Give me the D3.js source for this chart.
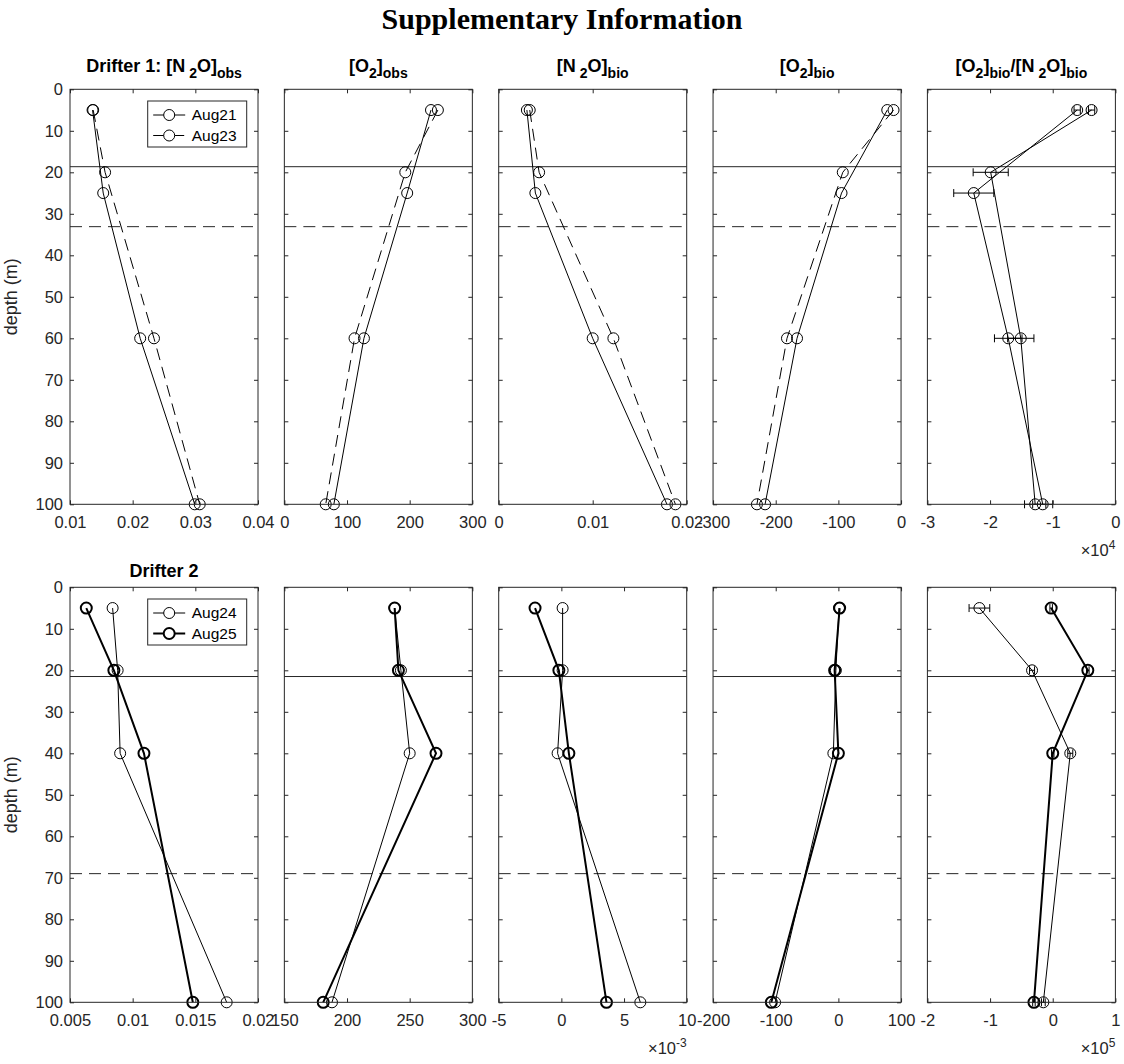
<!DOCTYPE html>
<html>
<head>
<meta charset="utf-8">
<script src="https://cdn.jsdelivr.net/npm/d3@7"></script>
<style>
  body { margin: 0; background: #fff; }
  svg { font-family: Arial, "Liberation Sans", Helvetica, sans-serif; }
</style>
</head>
<body>
<script>
// ---- Drifter 1: Aug21 (solid) and Aug23 (dashed) ----
const depthAug21 = [5, 25, 60, 100];
const depthAug23 = [5, 20, 60, 100];
const n2oObsAug21 = [0.0136, 0.0153, 0.0212, 0.0299];
const n2oObsAug23 = [0.0137, 0.0156, 0.0234, 0.0307];
const o2ObsAug21 = [234, 196, 127, 79];
const o2ObsAug23 = [245, 193, 112, 66];
const n2oBioAug21 = [0.0030, 0.0039, 0.0100, 0.0179];
const n2oBioAug23 = [0.0033, 0.0043, 0.0122, 0.0188];
const o2BioAug21 = [-22, -95, -166, -217];
const o2BioAug23 = [-12, -93, -182, -230];
const ratioAug21 = [-6100, -22600, -17100, -11600];
const ratioErrAug21 = [500, 3200, 2200, 1600];
const ratioAug23 = [-3800, -19900, -15100, -12800];
const ratioErrAug23 = [500, 2800, 2100, 1700];
const refDepths1 = [18.65, 33.1];   // solid, dashed

// ---- Drifter 2: Aug24 (thin) and Aug25 (thick) ----
const depthD2 = [5, 20, 40, 100];
const n2oObsAug24 = [0.0084, 0.0088, 0.0090, 0.0175];
const n2oObsAug25 = [0.0063, 0.0085, 0.0109, 0.0148];
const o2ObsAug24 = [238, 243, 250, 188];
const o2ObsAug25 = [238, 241, 271, 181];
const n2oBioAug24 = [0.0001, 0.0001, -0.0003, 0.0063];
const n2oBioAug25 = [-0.0021, -0.0002, 0.0006, 0.0036];
const o2BioAug24 = [1, -4, -8, -101];
const o2BioAug25 = [2, -6, 0, -107];
const ratioAug24 = [-117000, -33000, 28000, -15000];
const ratioErrAug24 = [16500, 4000, 4000, 3000];
const ratioAug25 = [-2500, 56000, 0, -30000];
const ratioErrAug25 = [2000, 2000, 2000, 2000];
const refDepths2 = [21.5, 69];

// ---- axes ----
const depthTicks = [0, 10, 20, 30, 40, 50, 60, 70, 80, 90, 100];
const xTicks1 = [[0.01, 0.02, 0.03, 0.04], [0, 100, 200, 300], [0, 0.01, 0.02], [-300, -200, -100, 0], [-30000, -20000, -10000, 0]];
const xTicks2 = [[0.005, 0.01, 0.015, 0.02], [150, 200, 250, 300], [-0.005, 0, 0.005, 0.01], [-200, -100, 0, 100], [-200000, -100000, 0, 100000]];
const xExp1 = [0, 0, 0, 0, 4];
const xExp2 = [0, 0, -3, 0, 5];
const legend1 = ["Aug21", "Aug23"];
const legend2 = ["Aug24", "Aug25"];

// layout
const width = 1124, height = 1064;
const left0 = 70, step = 214.35, pw = 188, ph = 415;
const rowTop = [89.3, 587.3];
const ink = "#262626";

const svg = d3.select("body").append("svg")
  .attr("width", width).attr("height", height);

svg.append("text")
  .attr("x", width / 2).attr("y", 29)
  .attr("text-anchor", "middle")
  .style("font-family", '"Liberation Serif", "Times New Roman", serif')
  .style("font-weight", "bold").style("font-size", "30px")
  .text("Supplementary Information");

const titles1 = [
  [["Drifter 1: [N"], ["2", 1, 4], ["O]"], ["obs", 1]],
  [["[O"], ["2", 1], ["]"], ["obs", 1]],
  [["[N"], ["2", 1, 4], ["O]"], ["bio", 1]],
  [["[O"], ["2", 1], ["]"], ["bio", 1]],
  [["[O"], ["2", 1], ["]"], ["bio", 1], ["/[N"], ["2", 1, 4], ["O]"], ["bio", 1]]
];
const titles2 = [[["Drifter 2"]], null, null, null, null];

const rows = [
  {
    top: rowTop[0], ticks: xTicks1, exps: xExp1, titles: titles1, refs: refDepths1,
    legend: legend1,
    series: [
      [{d: depthAug21, v: n2oObsAug21}, {d: depthAug23, v: n2oObsAug23, dash: true}],
      [{d: depthAug21, v: o2ObsAug21}, {d: depthAug23, v: o2ObsAug23, dash: true}],
      [{d: depthAug21, v: n2oBioAug21}, {d: depthAug23, v: n2oBioAug23, dash: true}],
      [{d: depthAug21, v: o2BioAug21}, {d: depthAug23, v: o2BioAug23, dash: true}],
      [{d: depthAug21, v: ratioAug21, e: ratioErrAug21}, {d: depthAug23, v: ratioAug23, e: ratioErrAug23}]
    ],
    legendStyles: [{}, {dash: true}]
  },
  {
    top: rowTop[1], ticks: xTicks2, exps: xExp2, titles: titles2, refs: refDepths2,
    legend: legend2,
    series: [
      [{d: depthD2, v: n2oObsAug24}, {d: depthD2, v: n2oObsAug25, thick: true}],
      [{d: depthD2, v: o2ObsAug24}, {d: depthD2, v: o2ObsAug25, thick: true}],
      [{d: depthD2, v: n2oBioAug24}, {d: depthD2, v: n2oBioAug25, thick: true}],
      [{d: depthD2, v: o2BioAug24}, {d: depthD2, v: o2BioAug25, thick: true}],
      [{d: depthD2, v: ratioAug24, e: ratioErrAug24}, {d: depthD2, v: ratioAug25, e: ratioErrAug25, thick: true}]
    ],
    legendStyles: [{}, {thick: true}]
  }
];

// matlab style labels: plain hyphen for minus
const fmtTick = (v, exp) => {
  const s = exp ? v / Math.pow(10, exp) : v;
  return String(+s.toPrecision(6));
};

function addTitle(g, x, y, parts) {
  const t = g.append("text")
    .attr("x", x).attr("y", y)
    .attr("text-anchor", "middle")
    .style("font-weight", "bold").style("font-size", "18px").attr("fill", "#000");
  let low = false;
  parts.forEach(p => {
    const sub = !!p[1];
    const ts = t.append("tspan").text(p[0]);
    let dy = 0;
    if (sub && !low) dy = 6;
    if (!sub && low) dy = -6;
    low = sub;
    if (dy) ts.attr("dy", dy);
    if (p[2]) ts.attr("dx", p[2]);
    if (sub) ts.style("font-size", "14px");
  });
}

function drawMarks(g, x, y, s) {
  const lw = s.thick ? 2 : 1;
  const pts = s.d.map((d, i) => [s.v[i], d, s.e ? s.e[i] : 0]);
  g.append("path")
    .datum(pts)
    .attr("fill", "none").attr("stroke", "#000").attr("stroke-width", lw)
    .attr("stroke-dasharray", s.dash ? "12,7" : null)
    .attr("d", d3.line().x(p => x(p[0])).y(p => y(p[1])));
  if (s.e) {
    const eb = g.append("g").attr("stroke", "#000").attr("stroke-width", 1);
    pts.forEach(p => {
      const yy = y(p[1]);
      eb.append("line").attr("x1", x(p[0] - p[2])).attr("x2", x(p[0] + p[2])).attr("y1", yy).attr("y2", yy);
      [p[0] - p[2], p[0] + p[2]].forEach(v => {
        eb.append("line").attr("x1", x(v)).attr("x2", x(v)).attr("y1", yy - 4).attr("y2", yy + 4);
      });
    });
  }
  g.append("g").selectAll("circle").data(pts).join("circle")
    .attr("cx", p => x(p[0])).attr("cy", p => y(p[1]))
    .attr("r", 5.5)
    .attr("fill", "none").attr("stroke", "#000").attr("stroke-width", lw);
}

rows.forEach(row => {
  row.series.forEach((seriesList, k) => {
    const x0 = left0 + k * step;
    const ticks = row.ticks[k];
    const exp = row.exps[k];
    const x = d3.scaleLinear().domain([ticks[0], ticks[ticks.length - 1]]).range([x0, x0 + pw]);
    const y = d3.scaleLinear().domain([0, 100]).range([row.top, row.top + ph]);
    const g = svg.append("g");

    // reference depth lines
    row.refs.forEach((rd, i) => {
      g.append("line")
        .attr("x1", x0).attr("x2", x0 + pw)
        .attr("y1", y(rd)).attr("y2", y(rd))
        .attr("stroke", ink).attr("stroke-width", 1)
        .attr("stroke-dasharray", i === 1 ? "12,7" : null);
    });

    seriesList.forEach(s => drawMarks(g, x, y, s));

    // box
    g.append("rect")
      .attr("x", x0).attr("y", row.top).attr("width", pw).attr("height", ph)
      .attr("fill", "none").attr("stroke", ink).attr("stroke-width", 1);

    // axes with inward ticks
    const styleAxis = a => {
      a.select(".domain").remove();
      a.selectAll("line").attr("stroke", ink);
      a.selectAll("text").attr("fill", ink).style("font-size", "16.5px")
        .style("font-family", 'Arial, "Liberation Sans", sans-serif');
    };
    g.append("g").attr("transform", `translate(0,${row.top + ph})`)
      .call(d3.axisBottom(x).tickValues(ticks).tickSizeInner(-4).tickSizeOuter(0)
        .tickPadding(12).tickFormat(v => fmtTick(v, exp)))
      .call(styleAxis);
    g.append("g").attr("transform", `translate(0,${row.top})`)
      .call(d3.axisTop(x).tickValues(ticks).tickSizeInner(-4).tickSizeOuter(0).tickFormat(""))
      .call(styleAxis);
    g.append("g").attr("transform", `translate(${x0},0)`)
      .call(d3.axisLeft(y).tickValues(depthTicks).tickSizeInner(-4).tickSizeOuter(0)
        .tickPadding(7).tickFormat(k === 0 ? d3.format("d") : ""))
      .call(styleAxis);
    g.append("g").attr("transform", `translate(${x0 + pw},0)`)
      .call(d3.axisRight(y).tickValues(depthTicks).tickSizeInner(-4).tickSizeOuter(0).tickFormat(""))
      .call(styleAxis);

    // exponent label
    if (exp) {
      const t = g.append("text")
        .attr("x", x0 + pw).attr("y", row.top + ph + 52)
        .attr("text-anchor", "end").attr("fill", ink).style("font-size", "16.5px");
      t.append("tspan").text("\u00d710");
      t.append("tspan").attr("dy", -7).style("font-size", "12px").text(exp);
    }

    if (row.titles[k]) {
      addTitle(g, x0 + pw / 2, row.top - (row.top < 300 ? 17 : 10), row.titles[k]);
    }

    if (k === 0) {
      g.append("text")
        .attr("transform", `translate(17,${row.top + ph / 2}) rotate(-90)`)
        .attr("text-anchor", "middle").attr("fill", ink)
        .style("font-size", "18px")
        .text("depth (m)");

      // legend
      const lg = g.append("g").attr("transform", `translate(147.7,${row.top + 11.7})`);
      lg.append("rect").attr("width", 99).attr("height", 46)
        .attr("fill", "#fff").attr("stroke", ink).attr("stroke-width", 1);
      row.legend.forEach((name, i) => {
        const st = row.legendStyles[i];
        const ly = 14 + i * 20.5;
        const lw = st.thick ? 2 : 1;
        lg.append("line").attr("x1", 5.5).attr("x2", 37.5).attr("y1", ly).attr("y2", ly)
          .attr("stroke", "#000").attr("stroke-width", lw)
          .attr("stroke-dasharray", st.dash ? "12,7" : null);
        lg.append("circle").attr("cx", 21.5).attr("cy", ly).attr("r", 5.5)
          .attr("fill", "#fff").attr("stroke", "#000").attr("stroke-width", lw);
        lg.append("text").attr("x", 44).attr("y", ly).attr("dy", "0.35em")
          .attr("fill", "#000").style("font-size", "15.5px").text(name);
      });
    }
  });
});
</script>
</body>
</html>
